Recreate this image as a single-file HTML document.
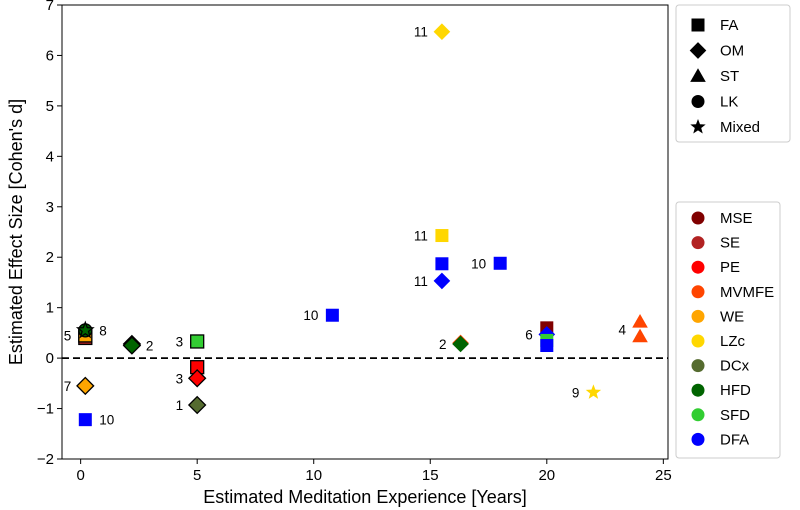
<!DOCTYPE html>
<html><head><meta charset="utf-8"><style>
body{margin:0;background:#fff}
svg{display:block;font-family:"Liberation Sans","DejaVu Sans",sans-serif}
</style></head><body>
<svg id="chart" width="800" height="510" viewBox="0 0 800 510"></svg>
<script>
const xTicks=[0,5,10,15,20,25];
const yTicks=[-2,-1,0,1,2,3,4,5,6,7];
const measures=["MSE","SE","PE","MVMFE","WE","LZc","DCx","HFD","SFD","DFA"];
const measureColors=["#800000","#b22222","#ff0000","#ff4500","#ffa500","#ffd700","#556b2f","#006400","#32cd32","#0000ff"];
const shapeNames=["FA","OM","ST","LK","Mixed"];
const shapeKeys=["s","d","t","c","*"];
// points: experience years, effect size, shape, measure, edged
const ptX=[0.2,0.2,0.2,0.2,0.2,0.2,2.2,2.2,5,5,5,5,10.8,15.5,15.5,15.5,15.5,18,16.3,16.3,20,20,20,20,24,24,22];
const ptY=[0.4,0.45,0.55,0.55,-0.55,-1.22,0.28,0.25,0.33,-0.18,-0.4,-0.93,0.85,6.47,2.43,1.87,1.53,1.88,0.3,0.28,0.6,0.47,0.35,0.25,0.72,0.43,-0.68];
const ptShape=["s","s","c","*","d","s","d","d","s","s","d","d","s","d","s","s","d","s","d","d","s","d","s","s","t","t","*"];
const ptMeasure=["SE","WE","HFD","HFD","WE","DFA","MVMFE","HFD","SFD","PE","PE","DCx","DFA","LZc","LZc","DFA","DFA","DFA","MVMFE","HFD","MSE","DFA","SFD","DFA","MVMFE","MVMFE","LZc"];
const ptEdge=[1,1,1,1,1,0,1,1,1,1,1,1,0,0,0,0,0,0,0,0,0,0,0,0,0,0,0];
const labelText=["5","8","7","10","2","3","3","1","10","11","11","11","10","2","6","4","9"];
const labelX=[0.2,0.2,0.2,0.2,2.2,5,5,5,10.8,15.5,15.5,15.5,18,16.3,20,24,22];
const labelY=[0.45,0.55,-0.55,-1.22,0.25,0.33,-0.4,-0.93,0.85,6.47,2.43,1.53,1.88,0.28,0.47,0.57,-0.68];
const labelSide=["L","R","L","R","R","L","L","L","L","L","L","L","L","L","L","L","L"];

const L=62,R=668,T=5,B=459;
const xMin=-0.8,xMax=25.2,yMin=-2,yMax=7;
const sx=v=>L+(v-xMin)/(xMax-xMin)*(R-L);
const sy=v=>B-(v-yMin)/(yMax-yMin)*(B-T);
const svg=document.getElementById('chart');
const NS="http://www.w3.org/2000/svg";
function mk(tag,attrs,parent){const e=document.createElementNS(NS,tag);for(const k in attrs)e.setAttribute(k,attrs[k]);(parent||svg).appendChild(e);return e;}
function marker(shape,cx,cy,size,fill,edge,parent){
  const s=size, st=edge?"#000":"none", sw=edge?1.3:0;
  let e;
  if(shape==="s") e=mk('rect',{x:cx-s/2,y:cy-s/2,width:s,height:s,fill:fill,stroke:st,'stroke-width':sw},parent);
  else if(shape==="d"){const h=s*0.64;e=mk('polygon',{points:`${cx},${cy-h} ${cx+h},${cy} ${cx},${cy+h} ${cx-h},${cy}`,fill:fill,stroke:st,'stroke-width':sw},parent);}
  else if(shape==="t"){const h=s*0.6;e=mk('polygon',{points:`${cx},${cy-h} ${cx+h},${cy+h*0.75} ${cx-h},${cy+h*0.75}`,fill:fill,stroke:st,'stroke-width':sw},parent);}
  else if(shape==="c") e=mk('circle',{cx:cx,cy:cy,r:s/2,fill:fill,stroke:st,'stroke-width':sw},parent);
  else {let p=[];const ro=s*0.62,ri=ro*0.42;for(let i=0;i<10;i++){const a=-Math.PI/2+i*Math.PI/5;const r=i%2?ri:ro;p.push((cx+r*Math.cos(a))+","+(cy+r*Math.sin(a)));}
    e=mk('polygon',{points:p.join(" "),fill:fill,stroke:st,'stroke-width':sw},parent);}
  return e;
}
const frame=mk('rect',{x:L,y:T,width:R-L,height:B-T,fill:"none",stroke:"#000","stroke-width":1});


xTicks.forEach(v=>{
  const g=mk('g',{});
  
  
  mk('line',{x1:sx(v),x2:sx(v),y1:B,y2:B+5,stroke:"#000"},g);
  const t=mk('text',{x:sx(v),y:B+21,'text-anchor':'middle','font-size':15},g);t.textContent=v;
});
yTicks.forEach(v=>{
  const g=mk('g',{});
  
  
  mk('line',{x1:L-5,x2:L,y1:sy(v),y2:sy(v),stroke:"#000"},g);
  const t=mk('text',{x:L-8,y:sy(v)+5,'text-anchor':'end','font-size':15},g);t.textContent=(v<0?"\u2212"+(-v):v);
});
const zl=mk('line',{x1:L,x2:R,y1:sy(0),y2:sy(0),stroke:"#000","stroke-width":1.8,"stroke-dasharray":"7,4"});


const xt=mk('text',{x:(L+R)/2,y:503,'text-anchor':'middle','font-size':18});xt.textContent="Estimated Meditation Experience [Years]";


const yt=mk('text',{x:0,y:0,'text-anchor':'middle','font-size':18,transform:`translate(22,${(T+B)/2}) rotate(-90)`});yt.textContent="Estimated Effect Size [Cohen's d]";


for(let i=0;i<ptX.length;i++){
  const col=measureColors[measures.indexOf(ptMeasure[i])];
  const m=marker(ptShape[i],sx(ptX[i]),sy(ptY[i]),13,col,ptEdge[i]);
  
  
}
for(let i=0;i<labelText.length;i++){
  const left=labelSide[i]==="L";
  const t=mk('text',{x:sx(labelX[i])+(left?-14:14),y:sy(labelY[i])+5,'text-anchor':left?'end':'start','font-size':13.5});
  t.textContent=labelText[i];
  
  
}
const lg1=mk('g',{});


mk('rect',{x:676,y:5,width:114,height:137,rx:3,fill:"#fff",stroke:"#ccc"},lg1);
shapeNames.forEach((n,i)=>{
  const y=25+i*25.5;
  const g=mk('g',{},lg1);
  
  
  marker(shapeKeys[i],698,y,13,"#000",0,g);
  const t=mk('text',{x:720,y:y+5,'font-size':15},g);t.textContent=n;
});
const lg2=mk('g',{});


mk('rect',{x:676,y:202,width:104,height:256,rx:3,fill:"#fff",stroke:"#ccc"},lg2);
measures.forEach((n,i)=>{
  const y=218+i*24.6;
  const g=mk('g',{},lg2);
  
  
  mk('circle',{cx:698,cy:y,r:6.5,fill:measureColors[i]},g);
  const t=mk('text',{x:720,y:y+5,'font-size':15},g);t.textContent=n;
});
</script>
</body></html>
